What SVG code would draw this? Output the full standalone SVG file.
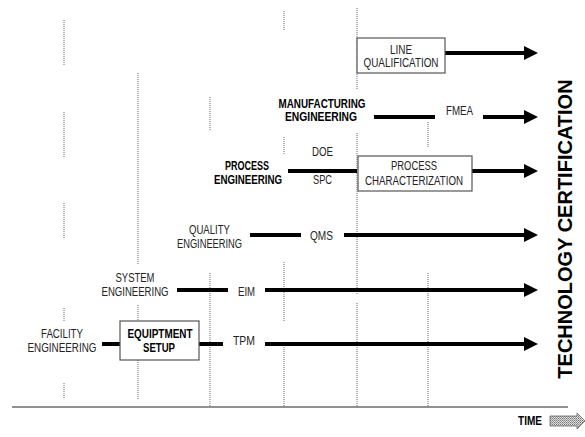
<svg xmlns="http://www.w3.org/2000/svg" width="585" height="437" viewBox="0 0 585 437">
  <style>
    .lbl { font-family: "Liberation Sans", Arial, sans-serif; font-size: 12px; fill: #222; text-anchor: middle; }
    .bold { font-family: "Liberation Sans", Arial, sans-serif; font-size: 12px; font-weight: bold; fill: #000; text-anchor: middle; }
    .grid { stroke: #666; stroke-width: 1; stroke-dasharray: 1 1; fill: none; }
    .flow { stroke: #000; stroke-width: 4; fill: none; }
    .box { fill: #fff; stroke: #555; stroke-width: 1.2; }
  </style>
  <defs>
    <marker id="head" markerUnits="userSpaceOnUse" markerWidth="14" markerHeight="14" refX="0" refY="7" orient="auto">
      <path d="M0,0 L14,7 L0,14 Z" fill="#000"/>
    </marker>
    <pattern id="hatch" width="2" height="2" patternUnits="userSpaceOnUse">
      <rect width="2" height="2" fill="#ddd"/>
      <rect width="1" height="1" fill="#777"/>
      <rect x="1" y="1" width="1" height="1" fill="#999"/>
    </pattern>
  </defs>

  <rect width="585" height="437" fill="#fff"/>

  <!-- time grid -->
  <g id="grid">
    <path class="grid" d="M64,20 V66 M64,112 V157 M64,203 V238 M64,308 V322 M64,383 V398"/>
    <path class="grid" d="M138,73 V265 M138,305 V321 M138,360 V400"/>
    <path class="grid" d="M210,97 V130 M210,273 V407"/>
    <path class="grid" d="M284,11 V30 M284,137 V155 M284,262 V322 M284,347 V407"/>
    <path class="grid" d="M357,8 V90 M357,133 V295 M357,303 V407"/>
    <path class="grid" d="M428,122 V148 M428,273 V407"/>
  </g>

  <!-- time axis -->
  <g id="axis">
    <line x1="12" y1="407" x2="568" y2="407" stroke="#222" stroke-width="1"/>
    <text x="530" y="425" font-family="'Liberation Sans', Arial, sans-serif" font-size="13" font-weight="bold" text-anchor="middle" textLength="24" lengthAdjust="spacingAndGlyphs">TIME</text>
    <path d="M550,416 H577 V413 L585,421 L577,429 V426 H550 Z" fill="url(#hatch)" stroke="#666" stroke-width="0.8"/>
  </g>

  <!-- connectors -->
  <g id="connectors">
    <path class="flow" d="M445,53 H524" marker-end="url(#head)"/>
    <path class="flow" d="M374,117 H435"/>
    <path class="flow" d="M483,117 H524" marker-end="url(#head)"/>
    <path class="flow" d="M288,171 H357"/>
    <path class="flow" d="M472,171 H524" marker-end="url(#head)"/>
    <path class="flow" d="M250,235 H301"/>
    <path class="flow" d="M344,235 H524" marker-end="url(#head)"/>
    <path class="flow" d="M177,290 H228"/>
    <path class="flow" d="M265,290 H524" marker-end="url(#head)"/>
    <path class="flow" d="M102,344 H120"/>
    <path class="flow" d="M199,344 H223"/>
    <path class="flow" d="M265,344 H524" marker-end="url(#head)"/>
  </g>

  <!-- line qualification -->
  <g id="line-qualification">
    <rect class="box" x="357" y="38" width="88" height="35"/>
    <text class="lbl" x="401" y="54" textLength="22" lengthAdjust="spacingAndGlyphs">LINE</text>
    <text class="lbl" x="401" y="67" textLength="75" lengthAdjust="spacingAndGlyphs">QUALIFICATION</text>
  </g>

  <!-- manufacturing engineering -->
  <g id="manufacturing-engineering">
    <text class="bold" x="322" y="108" textLength="87" lengthAdjust="spacingAndGlyphs">MANUFACTURING</text>
    <text class="bold" x="321" y="121" textLength="72" lengthAdjust="spacingAndGlyphs">ENGINEERING</text>
  </g>
  <g id="fmea">
    <text class="lbl" x="459.5" y="115" textLength="27" lengthAdjust="spacingAndGlyphs">FMEA</text>
  </g>

  <!-- process engineering -->
  <g id="process-engineering">
    <text class="bold" x="247" y="170" textLength="44" lengthAdjust="spacingAndGlyphs">PROCESS</text>
    <text class="bold" x="248" y="184" textLength="68" lengthAdjust="spacingAndGlyphs">ENGINEERING</text>
  </g>
  <g id="doe-spc">
    <text class="lbl" x="322.5" y="156" textLength="21" lengthAdjust="spacingAndGlyphs">DOE</text>
    <text class="lbl" x="322.5" y="184" textLength="19" lengthAdjust="spacingAndGlyphs">SPC</text>
  </g>
  <g id="process-characterization">
    <rect class="box" x="358" y="156" width="114" height="35"/>
    <text class="lbl" x="414" y="170" textLength="46" lengthAdjust="spacingAndGlyphs">PROCESS</text>
    <text class="lbl" x="414" y="185" textLength="98" lengthAdjust="spacingAndGlyphs">CHARACTERIZATION</text>
  </g>

  <!-- quality engineering -->
  <g id="quality-engineering">
    <text class="lbl" x="209.5" y="234" textLength="41" lengthAdjust="spacingAndGlyphs">QUALITY</text>
    <text class="lbl" x="209.5" y="248" textLength="65" lengthAdjust="spacingAndGlyphs">ENGINEERING</text>
  </g>
  <g id="qms">
    <text class="lbl" x="321.5" y="240" textLength="23" lengthAdjust="spacingAndGlyphs">QMS</text>
  </g>

  <!-- system engineering -->
  <g id="system-engineering">
    <text class="lbl" x="135" y="282" textLength="39" lengthAdjust="spacingAndGlyphs">SYSTEM</text>
    <text class="lbl" x="135" y="296" textLength="67" lengthAdjust="spacingAndGlyphs">ENGINEERING</text>
  </g>
  <g id="eim">
    <text class="lbl" x="246.5" y="296" textLength="17" lengthAdjust="spacingAndGlyphs">EIM</text>
  </g>

  <!-- facility engineering -->
  <g id="facility-engineering">
    <text class="lbl" x="62" y="338" textLength="42" lengthAdjust="spacingAndGlyphs">FACILITY</text>
    <text class="lbl" x="62" y="352" textLength="69" lengthAdjust="spacingAndGlyphs">ENGINEERING</text>
  </g>
  <g id="equipment-setup">
    <rect class="box" x="120" y="321" width="79" height="39"/>
    <text class="bold" x="160" y="338" textLength="65" lengthAdjust="spacingAndGlyphs">EQUIPTMENT</text>
    <text class="bold" x="159" y="352" textLength="32" lengthAdjust="spacingAndGlyphs">SETUP</text>
  </g>
  <g id="tpm">
    <text class="lbl" x="244" y="345" textLength="22" lengthAdjust="spacingAndGlyphs">TPM</text>
  </g>

  <!-- goal -->
  <g id="technology-certification">
    <text x="572" y="229" transform="rotate(-90 572 229)" font-family="'Liberation Sans', Arial, sans-serif" font-size="20" font-weight="bold" text-anchor="middle">TECHNOLOGY CERTIFICATION</text>
  </g>
</svg>
